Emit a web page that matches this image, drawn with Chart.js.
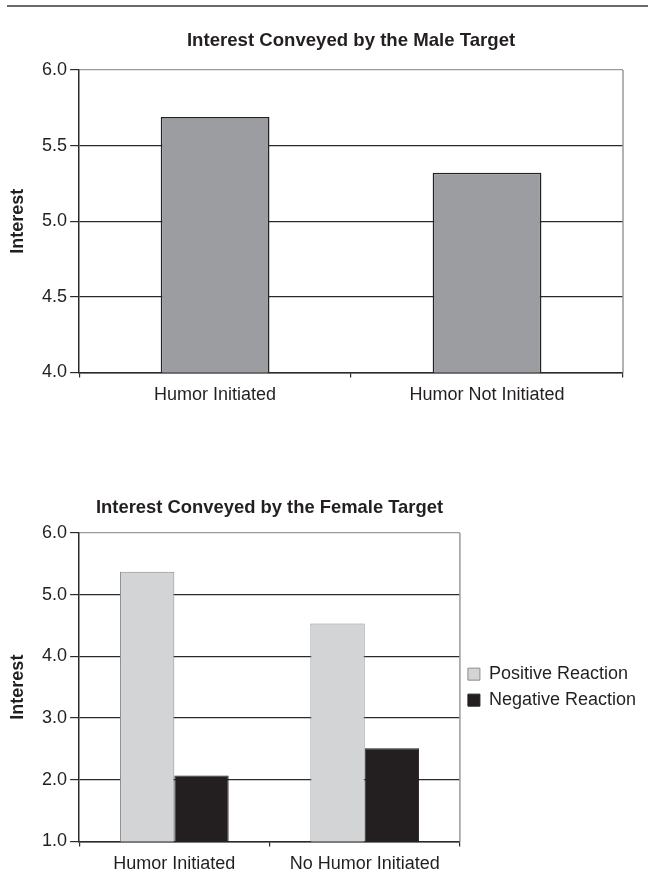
<!DOCTYPE html>
<html>
<head>
<meta charset="utf-8">
<script src="https://cdn.jsdelivr.net/npm/chart.js@4.4.1/dist/chart.umd.min.js"></script>
<style>
  html, body { margin: 0; padding: 0; background: #ffffff; overflow: hidden; }
  #wrap { position: relative; width: 648px; height: 871px; overflow: hidden; background: #fff; }
  #rule { position: absolute; left: 7px; top: 5px; width: 641px; height: 2px; background: #6a6a6a; }
  #c1 { position: absolute; left: 0; top: 0; }
  #c2 { position: absolute; left: 0; top: 480px; }
</style>
</head>
<body>
<div id="wrap">
  <div id="rule"></div>
  <canvas id="c1" width="648" height="413"></canvas>
  <canvas id="c2" width="648" height="402"></canvas>
</div>
<script>
// ---- Data ----
const maleTitle = 'Interest Conveyed by the Male Target';
const femaleTitle = 'Interest Conveyed by the Female Target';
const yAxisTitle = 'Interest';

const maleCategories = ['Humor Initiated', 'Humor Not Initiated'];
const maleInterest = [5.69, 5.32];
const maleAxisMin = 4.0;
const maleAxisMax = 6.0;
const maleAxisStep = 0.5;

const femaleCategories = ['Humor Initiated', 'No Humor Initiated'];
const seriesNames = ['Positive Reaction', 'Negative Reaction'];
const femalePositive = [5.37, 4.53];
const femaleNegative = [2.07, 2.51];
const femaleAxisMin = 1.0;
const femaleAxisMax = 6.0;
const femaleAxisStep = 1.0;

// ---- Styles ----
const FONT = "'Liberation Sans', Arial, Helvetica, sans-serif";
const TEXT = '#231f20';
const DARK = '#2a2a2a';
const FRAME = '#9a9a9a';

const rightBorder = {
  id: 'rightBorder',
  afterDraw(chart) {
    const a = chart.chartArea, ctx = chart.ctx;
    ctx.save();
    ctx.strokeStyle = FRAME;
    ctx.lineWidth = 1.5;
    ctx.beginPath();
    ctx.moveTo(a.right, a.top);
    ctx.lineTo(a.right, a.bottom);
    ctx.stroke();
    ctx.restore();
  }
};

function yScale(min, max, step) {
  return {
    min: min, max: max,
    ticks: {
      stepSize: step,
      padding: 3,
      color: TEXT,
      font: { family: FONT, size: 18 },
      callback: v => Number(v).toFixed(1)
    },
    grid: {
      color: c => (c.tick && Math.abs(c.tick.value - max) < 1e-9) ? FRAME : DARK,
      lineWidth: 1.2,
      tickColor: DARK,
      tickLength: 9,
      drawTicks: true
    },
    border: { color: DARK, width: 1.5 },
    title: {
      display: true,
      text: yAxisTitle,
      color: TEXT,
      font: { family: FONT, size: 18, weight: 'bold' },
      padding: { top: 7, bottom: 10.5 }
    }
  };
}

function xScale() {
  return {
    ticks: { color: TEXT, font: { family: FONT, size: 18 }, padding: 7 },
    grid: {
      offset: true,
      drawOnChartArea: false,
      drawTicks: true,
      tickLength: 5,
      color: DARK,
      tickColor: DARK,
      lineWidth: 1.2
    },
    border: { color: DARK, width: 1.5 }
  };
}

// ---- Top chart ----
new Chart(document.getElementById('c1'), {
  type: 'bar',
  data: {
    labels: maleCategories,
    datasets: [{
      label: 'Interest',
      data: maleInterest,
      backgroundColor: '#9c9da1',
      borderColor: '#222222',
      borderWidth: 1.5,
      categoryPercentage: 0.4,
      barPercentage: 1.0
    }]
  },
  options: {
    responsive: false,
    animation: false,
    devicePixelRatio: 1,
    layout: { padding: { left: 0, right: 25, top: 0, bottom: 0 } },
    plugins: {
      legend: { display: false },
      tooltip: { enabled: false },
      title: {
        display: true,
        fullSize: false,
        text: maleTitle,
        color: TEXT,
        font: { family: FONT, size: 18.6, weight: 'bold' },
        padding: { top: 29.6, bottom: 18.1 }
      }
    },
    scales: {
      x: xScale(),
      y: yScale(maleAxisMin, maleAxisMax, maleAxisStep)
    }
  },
  plugins: [rightBorder]
});

// ---- Bottom chart ----
new Chart(document.getElementById('c2'), {
  type: 'bar',
  data: {
    labels: femaleCategories,
    datasets: [{
      label: seriesNames[0],
      data: femalePositive,
      backgroundColor: '#d3d4d6',
      borderColor: '#8a8b8d',
      borderWidth: 1,
      categoryPercentage: 0.571,
      barPercentage: 1.0
    }, {
      label: seriesNames[1],
      data: femaleNegative,
      backgroundColor: '#231f20',
      borderColor: '#231f20',
      borderWidth: 1,
      categoryPercentage: 0.571,
      barPercentage: 1.0
    }]
  },
  options: {
    responsive: false,
    animation: false,
    devicePixelRatio: 1,
    layout: { padding: { left: 0, right: 2, top: 0, bottom: 0 } },
    plugins: {
      tooltip: { enabled: false },
      title: {
        display: true,
        fullSize: false,
        text: femaleTitle,
        color: TEXT,
        font: { family: FONT, size: 18.4, weight: 'bold' },
        padding: { top: 16.8, bottom: 14.0 }
      },
      legend: {
        display: true,
        position: 'right',
        align: 'center',
        fullSize: false,
        maxWidth: 230,
        labels: {
          boxWidth: 12,
          boxHeight: 12,
          padding: 8,
          color: TEXT,
          font: { family: FONT, size: 18 }
        }
      }
    },
    scales: {
      x: xScale(),
      y: yScale(femaleAxisMin, femaleAxisMax, femaleAxisStep)
    }
  },
  plugins: [rightBorder]
});
</script>
</body>
</html>
